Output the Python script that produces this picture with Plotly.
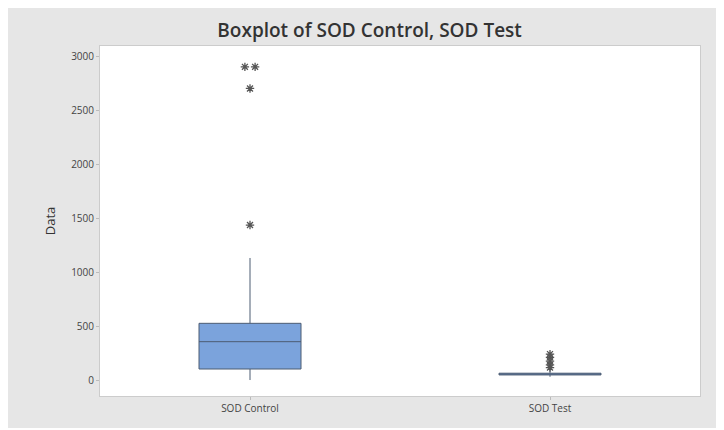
import plotly.graph_objects as go
from collections import Counter

# ---- data ----
categories = ["SOD Control", "SOD Test"]
q1 = [102, 47]
median = [355, 55]
q3 = [525, 63]
lower_whisker = [0, 30]
upper_whisker = [1130, 95]
control_outliers = [1435, 2700, 2900, 2900]
test_outliers = [115, 140, 175, 210, 240]
y_ticks = [0, 500, 1000, 1500, 2000, 2500, 3000]

BOX_FILL = "#7BA3DC"
BOX_LINE = "#4d5c73"
STAR = "#555555"

fig = go.Figure()

for i, name in enumerate(categories):
    fig.add_trace(go.Box(
        x=[i], q1=[q1[i]], median=[median[i]], q3=[q3[i]],
        lowerfence=[lower_whisker[i]], upperfence=[upper_whisker[i]],
        boxpoints=False, width=0.34, whiskerwidth=0,
        fillcolor=BOX_FILL, line=dict(color=BOX_LINE, width=1),
        name=name, showlegend=False, hoverinfo="skip",
    ))


def spread(values, center, step=0.017):
    counts = Counter(values)
    seen = Counter()
    xs = []
    for v in values:
        n = counts[v]
        k = seen[v]
        seen[v] += 1
        xs.append(center + (k - (n - 1) / 2) * 2 * step)
    return xs


for i, vals in enumerate([control_outliers, test_outliers]):
    fig.add_trace(go.Scatter(
        x=spread(vals, i), y=vals, mode="markers",
        marker=dict(symbol="asterisk-open", size=7, color=STAR,
                    line=dict(color=STAR, width=1.3)),
        showlegend=False, hoverinfo="skip",
    ))

FIG_H = 420
fig.update_layout(
    width=716, height=FIG_H,
    margin=dict(l=92, r=24, t=38, b=32),
    paper_bgcolor="#e6e6e6",
    plot_bgcolor="white",
    font=dict(family="Open Sans, Noto Sans, sans-serif", color="#555555"),
    title=dict(text="Boxplot of SOD Control, SOD Test", x=0.505, xanchor="center",
               xref="container", y=1 - 22 / FIG_H, yref="container", yanchor="middle",
               font=dict(size=19, color="#333333", family="Open Sans, sans-serif", weight=600)),
    xaxis=dict(range=[-0.5, 1.5], tickvals=[0, 1], ticktext=categories,
               showgrid=False, zeroline=False, ticks="outside", ticklen=3,
               tickcolor="#bbbbbb", showline=True, linecolor="#cccccc", mirror=True,
               tickfont=dict(size=10, color="#444444")),
    yaxis=dict(range=[-148, 3093], tickvals=y_ticks,
               showgrid=False, zeroline=False, ticks="outside", ticklen=3,
               tickcolor="#bbbbbb", showline=True, linecolor="#cccccc", mirror=True,
               tickfont=dict(size=10, color="#444444"),
               title=dict(text="Data", standoff=12,
                          font=dict(size=13, color="#333333"))),
)

fig.write_html("out.html")
